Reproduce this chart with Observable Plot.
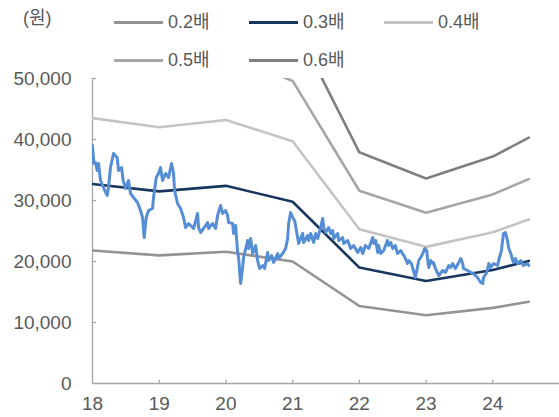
<!DOCTYPE html>
<html>
<head>
<meta charset="utf-8">
<script src="https://cdn.jsdelivr.net/npm/d3@7"></script>
<script src="https://cdn.jsdelivr.net/npm/@observablehq/plot@0.6"></script>
<style>
  body { margin: 0; background: #fff; }
  #wrap { position: relative; width: 559px; height: 417px; font-family: "Liberation Sans", "Noto Sans CJK KR", sans-serif; color: #595959; }
  #wrap svg { position: absolute; left: 0; top: 0; }
  .lg { position: absolute; font-size: 18px; line-height: 18px; white-space: nowrap; }
  .sw { position: absolute; height: 3px; width: 49px; }
</style>
</head>
<body>
<div id="wrap"></div>
<script>
// Band years (decimal, "18" = 2018)
const bandYears = [18, 19, 20, 21, 22, 23, 24, 24.54];
const band02 = [21800, 21000, 21600, 20000, 12700, 11200, 12400, 13400];
const band03 = [32700, 31500, 32400, 29800, 19000, 16800, 18600, 20100];
const band04 = [43500, 42000, 43200, 39700, 25300, 22400, 24800, 26900];
const band05 = [54400, 52500, 54000, 49600, 31600, 28000, 31000, 33500];
const band06 = [65300, 63000, 64800, 59500, 37900, 33600, 37200, 40300];
const bandNames = ["0.2배", "0.3배", "0.4배", "0.5배", "0.6배"];
const bandColors = ["#939393", "#17375e", "#c4c4c4", "#a6a6a6", "#7f7f7f"];

// Share price
const priceT = [18.000,18.02,18.045,18.07,18.09,18.12,18.165,18.22,18.24,18.27,18.315,18.37,18.39,18.435,18.46,18.495,18.54,18.57,18.615,18.675,18.72,18.75,18.775,18.805,18.84,18.9,18.915,18.955,18.99,19.02,19.05,19.095,19.14,19.185,19.215,19.23,19.275,19.32,19.365,19.395,19.44,19.515,19.575,19.59,
19.62,19.665,19.725,19.74,19.8,19.845,19.875,19.92,19.95,19.995,20.025,20.04,20.1,20.115,20.145,20.175,20.19,20.22,20.25,20.265,20.325,20.34,20.37,20.4,20.445,20.475,20.505,20.55,20.58,20.625,20.64,20.685,20.715,20.775,20.79,20.85,20.895,20.925,20.94,20.97,21.0,21.03,21.075,21.09,21.15,21.165,21.225,21.24,21.27,21.315,21.345,21.375,21.42,21.45,21.465,21.495,21.54,21.57,21.6,21.615,21.675,21.69,21.75,21.765,21.825,21.87,21.915,21.975,22.02,22.05,22.09,22.14,22.2,22.215,22.245,22.275,22.29,22.32,22.365,22.42,22.44,22.47,22.5,22.54,22.57,22.62,22.665,22.69,22.72,22.74,22.78,22.81,22.84,22.87,22.89,22.92,22.95,22.98,23.01,23.02,23.04,23.07,23.1,23.11,23.14,23.19,23.25,23.29,23.34,23.37,23.4,23.44,23.49,23.52,23.55,23.56,23.62,23.67,23.71,23.77,23.82,23.85,23.86,23.91,23.94,23.97,24.01,24.07,24.1,24.13,24.16,24.19,24.22,24.24,24.27,24.3,24.31,24.34,24.37,24.42,24.46,24.52,24.54];
const priceV = [39000,36100,36230,34920,36070,33280,32130,30820,32130,35410,37700,37050,34920,35410,33280,31970,33280,31150,30490,29670,28360,27210,23930,27210,28360,28690,30490,33770,34430,35410,33280,34430,33770,36070,34430,31640,29510,28690,27210,25570,26230,25410,27870,25570,
24750,25410,26390,25410,26230,25410,27540,29180,27870,28360,27540,26390,26230,24590,25900,21480,20660,16390,19020,20660,23440,22130,23770,21310,22620,20160,18850,19340,18850,21480,20160,20980,19840,21310,20490,21310,22130,23770,26230,28030,27210,26720,23930,22950,24590,23110,24260,23440,24590,23110,24590,23770,25570,27050,25570,24750,25570,24590,25080,23770,24590,23440,23930,22950,23440,22130,22620,21480,22300,21310,22620,22130,23930,22950,23440,21480,22620,21310,21800,23440,22620,23110,22130,22620,21310,21800,20980,20490,19670,20160,19670,18520,17380,19020,20160,20660,21310,22130,21800,20660,19020,20160,19670,19840,18850,17700,18520,18200,19340,19020,19670,18850,19840,20490,19670,18850,18520,18200,18030,17380,16560,16390,17380,18200,19670,19020,19670,19340,20660,21800,24590,24750,23440,22130,21310,20160,19840,20490,19670,20160,19340,19670,19340];

const xTicks = [18, 19, 20, 21, 22, 23, 24];
const yTicks = [0, 10000, 20000, 30000, 40000, 50000];
const unitLabel = "(원)";

const bands = [band02, band03, band04, band05, band06];
const bandRows = [];
bands.forEach((vals, i) => vals.forEach((v, j) => bandRows.push({t: bandYears[j], v, s: bandNames[i]})));
const priceRows = priceT.map((t, i) => ({t, v: priceV[i]}));

const axisColor = "#a6a6a6";
const chart = Plot.plot({
  width: 559,
  height: 417,
  marginTop: 78,
  marginBottom: 34,
  marginLeft: 92,
  marginRight: 0,
  style: {fontFamily: "'Liberation Sans', 'Noto Sans CJK KR', sans-serif", fontSize: "19px", color: "#595959", background: "transparent"},
  x: {domain: [18, 25], label: null},
  y: {domain: [0, 50000], label: null},
  color: {domain: bandNames, range: bandColors},
  marks: [
    Plot.ruleX([18], {y1: 0, y2: 50000, stroke: axisColor, strokeWidth: 1.3}),
    Plot.ruleY([0], {x1: 18, x2: 25, stroke: axisColor, strokeWidth: 1.3}),
    Plot.ruleY(yTicks.slice(1), {y: d => d, x1: 18, x2: 18.06, stroke: axisColor, strokeWidth: 1.3}),
    Plot.ruleX(xTicks.slice(1), {x: d => d, y1: 0, y2: 550, stroke: axisColor, strokeWidth: 1.3}),
    Plot.axisY({ticks: yTicks, tickSize: 0, tickPadding: 21, tickFormat: d3.format(","), fill: "#595959", label: null}),
    Plot.axisX({ticks: xTicks, tickSize: 0, tickPadding: 13, tickFormat: d => String(d), fill: "#595959", label: null}),
    Plot.line(bandRows, {x: "t", y: "v", z: "s", stroke: "s", strokeWidth: 2.6, clip: true}),
    Plot.line(priceRows, {x: "t", y: "v", stroke: "#558ed5", strokeWidth: 3, clip: true})
  ]
});

const wrap = document.getElementById("wrap");
wrap.appendChild(chart);

function addText(txt, x, y) {
  const d = document.createElement("div");
  d.className = "lg";
  d.textContent = txt;
  d.style.left = x + "px";
  d.style.top = (y - 9) + "px";
  wrap.appendChild(d);
}
addText(unitLabel, 23, 18);
const legendPos = [[114, 22], [249, 22], [384, 22], [114, 60], [249, 60]];
bandNames.forEach((n, i) => {
  const [x, y] = legendPos[i];
  const s = document.createElement("div");
  s.className = "sw";
  s.style.left = x + "px";
  s.style.top = (y - 1.5) + "px";
  s.style.background = bandColors[i];
  wrap.appendChild(s);
  addText(n, x + 54, y);
});
</script>
</body>
</html>
